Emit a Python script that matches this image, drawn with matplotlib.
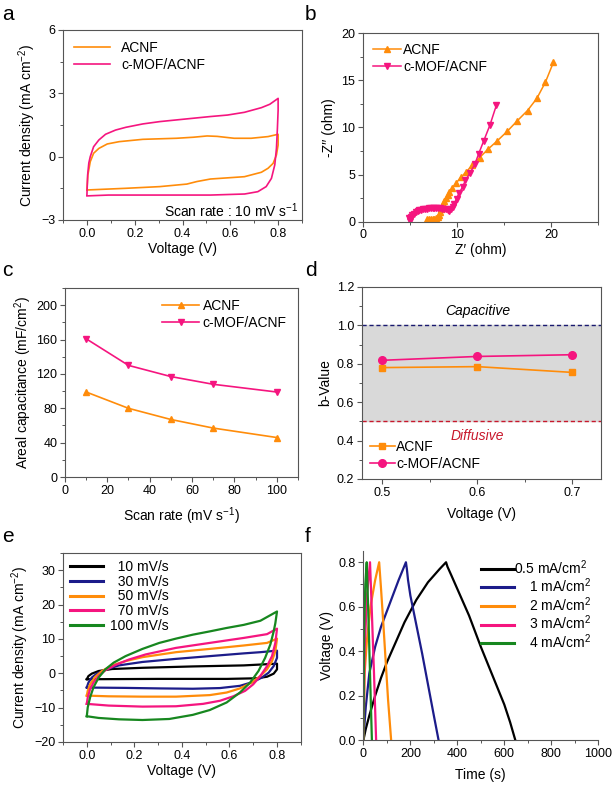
import numpy as np
import matplotlib
matplotlib.use('Agg')
import matplotlib.pyplot as plt
from matplotlib.ticker import MultipleLocator

plt.rcParams['font.family'] = ['Liberation Sans', 'DejaVu Sans']
plt.rcParams['mathtext.fontset'] = 'custom'
plt.rcParams['mathtext.rm'] = 'Liberation Sans'
plt.rcParams['mathtext.it'] = 'Liberation Sans:italic'

ORANGE = '#FF8C0A'
PINK = '#F5157F'
NAVY = '#1C1C8A'
GREEN = '#17871F'
BLACK = '#000000'

# ---- panel a : CV at 10 mV/s (forward then reverse sweep)
a_acnf_v = [0.0, 0.004, 0.014, 0.028, 0.05, 0.085, 0.135, 0.234, 0.375, 0.446, 0.503, 0.545, 0.616, 0.687, 0.758, 0.8,
            0.8, 0.793, 0.779, 0.758, 0.73, 0.659, 0.517, 0.46, 0.418, 0.305, 0.163, 0.0]
a_acnf_j = [-1.58, -0.87, -0.24, 0.16, 0.39, 0.6, 0.71, 0.82, 0.87, 0.92, 0.98, 0.96, 0.87, 0.87, 0.95, 1.06,
            0.55, 0.08, -0.32, -0.55, -0.74, -0.95, -1.06, -1.18, -1.3, -1.42, -1.5, -1.58]
a_mof_v = [0.0, 0.003, 0.008, 0.014, 0.028, 0.05, 0.078, 0.12, 0.163, 0.234, 0.305, 0.375, 0.446, 0.517, 0.588, 0.659, 0.73, 0.765, 0.8,
           0.8, 0.797, 0.793, 0.786, 0.772, 0.75, 0.715, 0.66, 0.517, 0.305, 0.09, 0.0]
a_mof_j = [-1.82, -0.87, -0.3, 0.0, 0.47, 0.79, 1.06, 1.26, 1.39, 1.55, 1.66, 1.74, 1.82, 1.9, 1.97, 2.1, 2.32, 2.48, 2.76,
           2.2, 1.34, 0.39, -0.39, -1.03, -1.42, -1.66, -1.77, -1.82, -1.82, -1.82, -1.86]

# ---- panel b : Nyquist
b_acnf_x = [6.8, 7.0, 7.2, 7.4, 7.6, 7.8, 8.0, 8.1, 8.2, 8.3, 8.4, 8.5, 8.65, 8.8, 9.0, 9.2, 9.5, 9.9, 10.4, 11.0,
            11.6, 12.4, 13.3, 14.3, 15.35, 16.4, 17.5, 18.5, 19.4, 20.25]
b_acnf_y = [0.25, 0.3, 0.3, 0.3, 0.32, 0.35, 0.45, 0.7, 1.0, 1.3, 1.6, 1.9, 2.2, 2.5, 2.8, 3.1, 3.6, 4.1, 4.7, 5.3,
            6.0, 6.8, 7.7, 8.6, 9.6, 10.7, 11.8, 13.1, 14.8, 16.9]
b_mof_x = [4.85, 4.95, 5.0, 5.1, 5.25, 5.4, 5.6, 5.8, 6.0, 6.2, 6.4, 6.6, 6.8, 7.0, 7.2, 7.4, 7.6, 7.8, 8.0, 8.2,
           8.4, 8.6, 8.8, 9.0, 9.2, 9.4, 9.55, 9.7, 9.95, 10.2, 10.6, 10.9, 11.4, 11.9, 12.3, 12.85, 13.5, 14.2]
b_mof_y = [0.35, 0.1, 0.3, 0.5, 0.7, 0.85, 1.0, 1.1, 1.2, 1.27, 1.32, 1.36, 1.4, 1.42, 1.43, 1.44, 1.44, 1.44, 1.43, 1.42,
           1.4, 1.38, 1.35, 1.25, 1.15, 1.3, 1.6, 1.9, 2.45, 3.0, 3.7, 4.4, 5.2, 6.1, 7.2, 8.6, 10.25, 12.4]

# ---- panel c : areal capacitance
c_rate = [10, 30, 50, 70, 100]
c_acnf = [99, 80, 67, 57, 46]
c_mof = [161, 130, 117, 108, 99]

# ---- panel d : b-values
d_volt = [0.5, 0.6, 0.7]
d_acnf = [0.78, 0.785, 0.755]
d_mof = [0.818, 0.838, 0.847]

# ---- panel e : CV at different scan rates
e_labels = ['  10 mV/s', '  30 mV/s', '  50 mV/s', '  70 mV/s', '100 mV/s']
e_v10 = [0.0, 0.007, 0.021, 0.05, 0.106, 0.234, 0.446, 0.66, 0.8, 0.8, 0.786, 0.758, 0.715, 0.59, 0.3, 0.0]
e_j10 = [-1.7, -0.8, -0.1, 0.67, 1.25, 1.6, 2.0, 2.3, 2.8, 1.15, -0.1, -1.0, -1.45, -1.63, -1.63, -1.73]
e_v30 = [0.0, 0.007, 0.021, 0.042, 0.078, 0.135, 0.234, 0.375, 0.517, 0.66, 0.73, 0.8,
         0.8, 0.786, 0.765, 0.736, 0.70, 0.644, 0.56, 0.446, 0.305, 0.163, 0.0]
e_j30 = [-4.1, -2.7, -1.25, -0.1, 1.06, 2.3, 3.3, 4.2, 5.0, 5.8, 6.15, 6.6,
         4.5, 2.1, 0.2, -1.25, -2.5, -3.65, -4.3, -4.5, -4.4, -4.25, -4.15]
e_v50 = [0.0, 0.004, 0.014, 0.035, 0.064, 0.106, 0.163, 0.234, 0.375, 0.517, 0.66, 0.758, 0.8,
         0.793, 0.779, 0.758, 0.73, 0.694, 0.644, 0.588, 0.517, 0.375, 0.234, 0.092, 0.0]
e_j50 = [-6.5, -5.1, -3.2, -1.05, 0.67, 2.3, 3.55, 4.7, 6.15, 7.1, 8.1, 8.85, 10.1,
         6.45, 3.55, 1.15, -0.77, -2.7, -4.4, -5.6, -6.35, -6.8, -6.8, -6.7, -6.5]
e_v70 = [0.0, 0.004, 0.014, 0.028, 0.05, 0.078, 0.12, 0.177, 0.248, 0.375, 0.517, 0.66, 0.758, 0.8,
         0.793, 0.779, 0.758, 0.73, 0.70, 0.666, 0.616, 0.56, 0.489, 0.375, 0.234, 0.092, 0.0]
e_j70 = [-8.9, -7.0, -4.6, -2.7, -0.77, 0.87, 2.4, 4.0, 5.5, 7.4, 8.85, 10.3, 11.4, 13.0,
         8.85, 5.0, 2.1, -0.77, -3.2, -5.1, -6.7, -8.0, -8.9, -9.6, -9.7, -9.4, -8.9]
e_v100 = [0.0, 0.004, 0.014, 0.028, 0.05, 0.078, 0.113, 0.163, 0.234, 0.305, 0.375, 0.446, 0.517, 0.588, 0.66, 0.73, 0.8,
          0.793, 0.786, 0.772, 0.75, 0.722, 0.687, 0.644, 0.588, 0.517, 0.446, 0.347, 0.234, 0.135, 0.05, 0.0]
e_j100 = [-12.5, -9.9, -7.0, -4.1, -1.25, 1.15, 3.1, 5.0, 7.1, 8.85, 10.1, 11.25, 12.2, 13.2, 14.1, 15.3, 18.0,
          14.6, 12.2, 8.4, 4.5, 0.67, -2.7, -5.6, -8.5, -10.7, -12.1, -13.3, -13.6, -13.4, -13.0, -12.5]

# ---- panel f : GCD curves
f_labels = ['0.5 mA/cm$^2$', '    1 mA/cm$^2$', '    2 mA/cm$^2$', '    3 mA/cm$^2$', '    4 mA/cm$^2$']
f_t05 = [0, 10, 25, 50, 75, 100, 125, 150, 175, 200, 225, 250, 275, 300, 325, 352,
         358, 375, 400, 425, 450, 475, 500, 525, 550, 575, 600, 625, 647]
f_v05 = [0.0, 0.05, 0.11, 0.2, 0.28, 0.35, 0.41, 0.47, 0.53, 0.58, 0.63, 0.67, 0.71, 0.74, 0.77, 0.8,
         0.78, 0.74, 0.68, 0.62, 0.56, 0.49, 0.42, 0.355, 0.29, 0.225, 0.16, 0.08, 0.0]
f_t1 = [0, 5, 10, 25, 50, 75, 100, 125, 150, 181, 185, 190, 200, 225, 250, 275, 300, 320]
f_v1 = [0.0, 0.08, 0.15, 0.3, 0.42, 0.51, 0.58, 0.65, 0.72, 0.8, 0.77, 0.72, 0.65, 0.52, 0.39, 0.25, 0.11, 0.0]
f_t2 = [0, 5, 15, 30, 50, 67, 75, 85, 95, 105, 118]
f_v2 = [0.0, 0.3, 0.45, 0.6, 0.72, 0.8, 0.68, 0.52, 0.35, 0.18, 0.0]
f_t3 = [0, 5, 15, 28, 35, 45, 54]
f_v3 = [0.0, 0.4, 0.65, 0.8, 0.6, 0.3, 0.0]
f_t4 = [0, 3, 8, 14, 20, 28, 36]
f_v4 = [0.0, 0.5, 0.7, 0.8, 0.6, 0.3, 0.0]

TICK = 9
LAB = 10
LEG = 10


def style(ax, box=True):
    for s in ax.spines.values():
        s.set_color('#555555')
        s.set_linewidth(0.8)
    if not box:
        ax.spines['top'].set_visible(False)
        ax.spines['right'].set_visible(False)
    ax.tick_params(which='major', direction='out', length=3.5, width=0.8, color='#555555', labelsize=TICK, pad=2)
    ax.tick_params(which='minor', direction='out', length=2, width=0.7, color='#555555')


fig = plt.figure(figsize=(6.16, 7.87), dpi=100)

# a
ax = fig.add_axes([0.1023, 0.7205, 0.388, 0.2414])
ax.plot(a_acnf_v, a_acnf_j, color=ORANGE, lw=1.2, label='ACNF')
ax.plot(a_mof_v, a_mof_j, color=PINK, lw=1.2, label='c-MOF/ACNF')
ax.set_xlim(-0.1, 0.9)
ax.set_ylim(-3, 6)
ax.set_xticks([0.0, 0.2, 0.4, 0.6, 0.8])
ax.xaxis.set_minor_locator(MultipleLocator(0.1))
ax.set_yticks([-3, 0, 3, 6])
ax.yaxis.set_minor_locator(MultipleLocator(1.5))
ax.set_xlabel('Voltage (V)', fontsize=LAB, labelpad=2)
ax.set_ylabel('Current density (mA cm$^{-2}$)', fontsize=LAB, labelpad=2)
ax.text(0.885, -2.55, 'Scan rate : 10 mV s$^{-1}$', ha='right', va='center', fontsize=LAB)
ax.legend(loc='upper left', frameon=False, fontsize=LEG, handlelength=2.6, borderaxespad=0.4, labelspacing=0.2)
style(ax)
fig.text(0.004, 0.982, 'a', fontsize=15, va='center')

# b
ax = fig.add_axes([0.5893, 0.7183, 0.3815, 0.2394])
ax.plot(b_acnf_x, b_acnf_y, color=ORANGE, lw=1.1, marker='^', ms=4, label='ACNF')
ax.plot(b_mof_x, b_mof_y, color=PINK, lw=1.1, marker='v', ms=4, label='c-MOF/ACNF')
ax.set_xlim(0, 25)
ax.set_ylim(0, 20)
ax.set_xticks([0, 10, 20])
ax.xaxis.set_minor_locator(MultipleLocator(5))
ax.set_yticks([0, 5, 10, 15, 20])
ax.yaxis.set_minor_locator(MultipleLocator(2.5))
ax.set_xlabel('Z\u2032 (ohm)', fontsize=LAB, labelpad=1)
ax.set_ylabel('-Z\u2032\u2032 (ohm)', fontsize=LAB, labelpad=4)
ax.legend(loc='upper left', frameon=False, fontsize=LEG, handlelength=2.0, handletextpad=0.2,
          borderaxespad=0.3, labelspacing=0.2)
style(ax)
fig.text(0.495, 0.982, 'b', fontsize=15, va='center')

# c
ax = fig.add_axes([0.1055, 0.3939, 0.378, 0.240])
ax.plot(c_rate, c_acnf, color=ORANGE, lw=1.2, marker='^', ms=5, label='ACNF')
ax.plot(c_rate, c_mof, color=PINK, lw=1.2, marker='v', ms=5, label='c-MOF/ACNF')
ax.set_xlim(0, 110)
ax.set_ylim(0, 220)
ax.set_xticks([0, 20, 40, 60, 80, 100])
ax.xaxis.set_minor_locator(MultipleLocator(10))
ax.set_yticks([0, 40, 80, 120, 160, 200])
ax.yaxis.set_minor_locator(MultipleLocator(20))
ax.set_xlabel('Scan rate (mV s$^{-1}$)', fontsize=LAB, labelpad=6)
ax.set_ylabel('Areal capacitance (mF/cm$^2$)', fontsize=LAB, labelpad=2)
ax.legend(loc='upper right', frameon=False, fontsize=LEG, handlelength=2.6, handletextpad=0.3,
          borderaxespad=0.4, labelspacing=0.2)
style(ax)
fig.text(0.004, 0.656, 'c', fontsize=15, va='center')

# d
ax = fig.add_axes([0.587, 0.3914, 0.388, 0.2440])
ax.axhspan(0.5, 1.0, color='#D9D9D9', zorder=0)
ax.axhline(1.0, color='#1A1A70', lw=1.0, ls=(0, (3, 2)))
ax.axhline(0.5, color='#C8182C', lw=1.0, ls=(0, (3, 2)))
ax.plot(d_volt, d_acnf, color=ORANGE, lw=1.2, marker='s', ms=5, label='ACNF')
ax.plot(d_volt, d_mof, color=PINK, lw=1.2, marker='o', ms=5.5, label='c-MOF/ACNF')
ax.text(0.6, 1.075, 'Capacitive', ha='center', va='center', fontsize=LAB, style='italic')
ax.text(0.6, 0.425, 'Diffusive', ha='center', va='center', fontsize=LAB, style='italic', color='#C8182C')
ax.set_xlim(0.478, 0.73)
ax.set_ylim(0.2, 1.2)
ax.set_xticks([0.5, 0.6, 0.7])
ax.xaxis.set_minor_locator(MultipleLocator(0.05))
ax.set_yticks([0.2, 0.4, 0.6, 0.8, 1.0, 1.2])
ax.yaxis.set_minor_locator(MultipleLocator(0.1))
ax.set_xlabel('Voltage (V)', fontsize=LAB, labelpad=6)
ax.set_ylabel('b-Value', fontsize=LAB, labelpad=3)
ax.legend(loc='lower left', frameon=False, fontsize=LEG, handlelength=1.8, handletextpad=0.1,
          borderaxespad=0.2, labelspacing=0.2)
style(ax)
fig.text(0.495, 0.656, 'd', fontsize=15, va='center')

# e
ax = fig.add_axes([0.1023, 0.0572, 0.386, 0.240])
for v, j, c, lab in zip([e_v10, e_v30, e_v50, e_v70, e_v100], [e_j10, e_j30, e_j50, e_j70, e_j100],
                        [BLACK, NAVY, ORANGE, PINK, GREEN], e_labels):
    ax.plot(v, j, color=c, lw=1.6, label=lab)
ax.set_xlim(-0.1, 0.9)
ax.set_ylim(-20, 35)
ax.set_xticks([0.0, 0.2, 0.4, 0.6, 0.8])
ax.xaxis.set_minor_locator(MultipleLocator(0.1))
ax.set_yticks([-20, -10, 0, 10, 20, 30])
ax.yaxis.set_minor_locator(MultipleLocator(5))
ax.set_xlabel('Voltage (V)', fontsize=LAB, labelpad=2)
ax.set_ylabel('Current density (mA cm$^{-2}$)', fontsize=LAB, labelpad=2)
leg = ax.legend(loc='upper left', frameon=False, fontsize=LEG, handlelength=2.4, handletextpad=0.5,
                borderaxespad=0.1, labelspacing=0.05)
for ln in leg.get_lines():
    ln.set_linewidth(2.2)
style(ax)
fig.text(0.004, 0.318, 'e', fontsize=15, va='center')

# f
ax = fig.add_axes([0.590, 0.0597, 0.381, 0.240])
for t, v, c, lab in zip([f_t05, f_t1, f_t2, f_t3, f_t4], [f_v05, f_v1, f_v2, f_v3, f_v4],
                        [BLACK, NAVY, ORANGE, PINK, GREEN], f_labels):
    ax.plot(t, v, color=c, lw=1.6, label=lab)
ax.set_xlim(0, 1000)
ax.set_ylim(0, 0.85)
ax.set_xticks([0, 200, 400, 600, 800, 1000])
ax.xaxis.set_minor_locator(MultipleLocator(100))
ax.set_yticks([0.0, 0.2, 0.4, 0.6, 0.8])
ax.yaxis.set_minor_locator(MultipleLocator(0.1))
ax.set_xlabel('Time (s)', fontsize=LAB, labelpad=6)
ax.set_ylabel('Voltage (V)', fontsize=LAB, labelpad=3)
leg = ax.legend(loc='upper right', frameon=False, fontsize=LEG, handlelength=2.4, handletextpad=0.0,
                borderaxespad=0.1, labelspacing=0.0)
for ln in leg.get_lines():
    ln.set_linewidth(2.2)
style(ax, box=False)
fig.text(0.495, 0.318, 'f', fontsize=15, va='center')

fig.savefig('out.png', dpi=100)
